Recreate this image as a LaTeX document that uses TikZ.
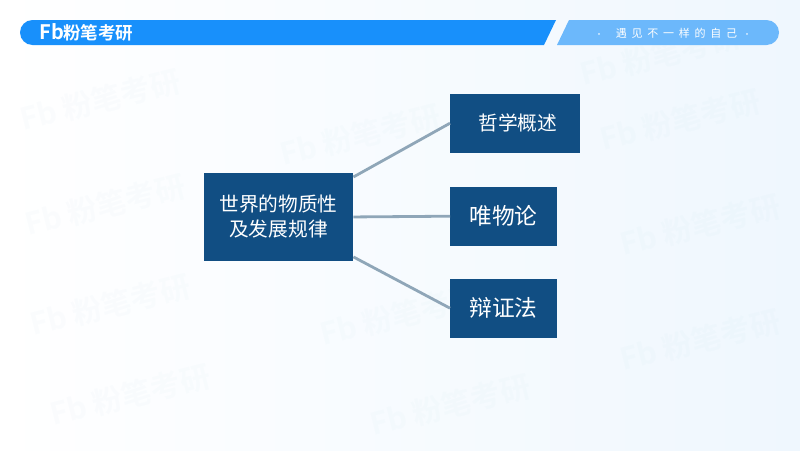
\documentclass[tikz,border=0pt]{standalone}
\usepackage{xcolor}
\usepackage{fontspec}
\usetikzlibrary{positioning}
\setmainfont{Noto Sans CJK SC}
\newfontfamily\cjkbold[BoldFont=*]{Noto Sans CJK SC Bold}
\newfontfamily\cjkwide[LetterSpace=43]{Noto Sans CJK SC}
\definecolor{boxblue}{HTML}{114E83}
\definecolor{linegray}{HTML}{8FA6B8}
\definecolor{barblue}{HTML}{1890FB}
\definecolor{sloganblue}{HTML}{6CB8FB}
\definecolor{pageblue}{HTML}{EFF7FE}
\definecolor{markblue}{HTML}{5FA8D0}

\begin{document}
\begin{tikzpicture}[
    x=1pt,
    y=-1pt,
    box/.style={
        fill=boxblue,
        text=white,
        inner sep=0pt,
        anchor=north west,
        minimum height=59pt,
        align=center
    },
    branch/.style={
        draw=linegray,
        line width=2.8pt
    },
    watermark/.style={
        font=\cjkbold\fontsize{30}{30}\selectfont,
        text=markblue,
        opacity=0.025,
        rotate=14
    }
]

% Background
\useasboundingbox (0,0) rectangle (800,450);
\shade[shading angle=80,left color=white,right color=pageblue] (0,0) rectangle (800,450);

% Watermarks
\foreach \px/\py [count=\i] in {100/100,360/135,105/205,110/305,130/395,450/405,680/120,700/225,700/340,400/315,660/55}{
    \node[watermark] (mark\i) at (\px,\py) {Fb 粉笔考研};
}

% Header
\fill[barblue] (32.5,20) -- (556,20) -- (544,45) -- (32.5,45) arc[start angle=90,end angle=270,radius=12.5] -- cycle;
\fill[sloganblue] (569,20) -- (766.5,20) arc[start angle=-90,end angle=90,radius=12.5] -- (557,45) -- cycle;
\node[text=white,font=\cjkbold\fontsize{17.5}{17.5}\selectfont,anchor=west,inner sep=0pt] (logo) at (39.5,32.5) {{\fontsize{20}{20}\selectfont Fb}\kern-1pt 粉笔考研};
\node[text=white,font=\cjkwide\fontsize{11}{11}\selectfont,inner sep=0pt] (slogan) at (676.5,33) {遇见不一样的自己};
\node[text=white,font=\fontsize{8}{8}\selectfont,inner sep=0pt] (dotl) at (599,36) {·};
\node[text=white,font=\fontsize{8}{8}\selectfont,inner sep=0pt] (dotr) at (747,36) {·};

% Boxes
\node[box,minimum width=149.5pt,minimum height=88.5pt,font=\fontsize{19.7}{25}\selectfont] (world) at (203.5,172.5) {世界的物质性\\及发展规律};
\node[box,minimum width=129.5pt,font=\fontsize{19.7}{20}\selectfont] (philo) at (450,93.5) {\hspace{6pt}哲学概述};
\node[box,minimum width=106.5pt,font=\fontsize{22.7}{23}\selectfont] (matter) at (450,186.5) {唯物论};
\node[box,minimum width=106.5pt,font=\fontsize{22.7}{23}\selectfont] (dialect) at (450,278.5) {辩证法};

% Connectors
\draw[branch] ([yshift=-4.5pt]world.north east) -- (philo.west);
\draw[branch] (world.east) -- (matter.west);
\draw[branch] ([yshift=4.5pt]world.south east) -- (dialect.west);

\end{tikzpicture}
\end{document}
